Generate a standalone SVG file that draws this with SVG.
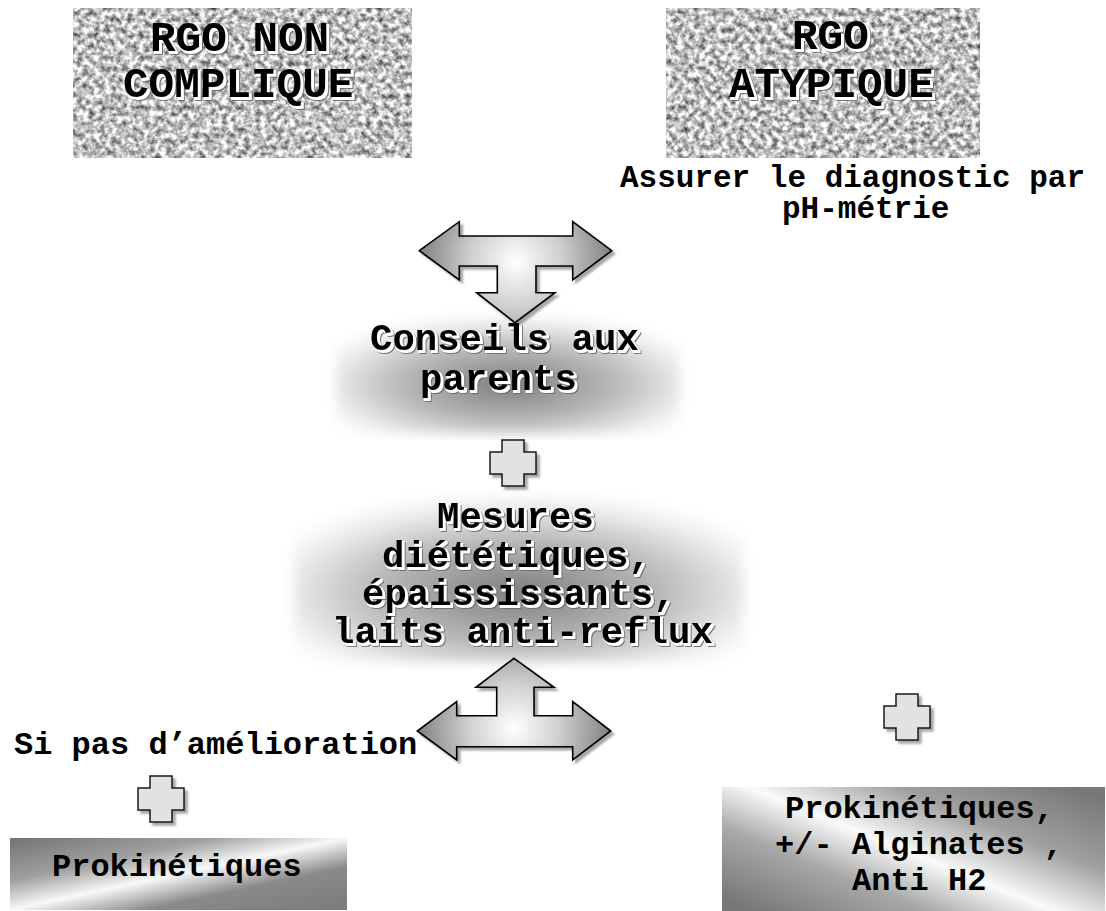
<svg xmlns="http://www.w3.org/2000/svg" xmlns:xlink="http://www.w3.org/1999/xlink" width="1106" height="911" viewBox="0 0 1106 911">
<style>
  text { font-family: "Liberation Mono", "Courier New", "DejaVu Sans Mono", monospace; font-weight: bold; fill: #000; }
  .t43 { font-size: 42.67px; }
  .t37 { font-size: 37.33px; }
  .t32 { font-size: 32px; }
  .t31 { font-size: 31px; }
  .arrow { stroke: #000; stroke-width: 1.6; stroke-linejoin: miter; }
  .cross { fill: #e2e2e2; stroke: #1a1a1a; stroke-width: 1.5; }
</style>
<defs>
  <filter id="granite" x="0" y="0" width="1" height="1" color-interpolation-filters="sRGB">
    <feTurbulence type="fractalNoise" baseFrequency="0.18" numOctaves="3" seed="7" result="n"/>
    <feColorMatrix in="n" type="matrix" values="1.3 0 0 0 0.1  1.3 0 0 0 0.1  1.3 0 0 0 0.1  0 0 0 0 1" result="g"/>
    <feComposite in="g" in2="SourceGraphic" operator="in"/>
  </filter>
  <filter id="emb" x="-5%" y="-20%" width="115%" height="160%" color-interpolation-filters="sRGB">
    <feMorphology in="SourceAlpha" operator="dilate" radius="0.8" result="d"/>
    <feOffset in="d" dx="3" dy="3" result="o2"/>
    <feFlood flood-color="#666" flood-opacity="0.85"/>
    <feComposite in2="o2" operator="in" result="g"/>
    <feOffset in="d" dx="1.5" dy="1.5" result="o1"/>
    <feFlood flood-color="#ffffff"/>
    <feComposite in2="o1" operator="in" result="w"/>
    <feMerge><feMergeNode in="g"/><feMergeNode in="w"/><feMergeNode in="SourceGraphic"/></feMerge>
  </filter>
  <filter id="shadow" x="-10%" y="-10%" width="130%" height="130%" color-interpolation-filters="sRGB">
    <feGaussianBlur in="SourceAlpha" stdDeviation="1.2"/>
    <feOffset dx="3" dy="3" result="b"/>
    <feFlood flood-color="#000" flood-opacity="0.35"/>
    <feComposite in2="b" operator="in" result="s"/>
    <feMerge><feMergeNode in="s"/><feMergeNode in="SourceGraphic"/></feMerge>
  </filter>
  <filter id="softedge" x="-5%" y="-5%" width="110%" height="110%">
    <feGaussianBlur stdDeviation="6"/>
  </filter>
  <radialGradient id="arrowTop" gradientUnits="userSpaceOnUse" cx="516" cy="262" r="100">
    <stop offset="0" stop-color="#ffffff"/>
    <stop offset="0.45" stop-color="#d0d0d0"/>
    <stop offset="1" stop-color="#7c7c7c"/>
  </radialGradient>
  <radialGradient id="arrowBot" gradientUnits="userSpaceOnUse" cx="514" cy="728" r="100">
    <stop offset="0" stop-color="#ffffff"/>
    <stop offset="0.45" stop-color="#d0d0d0"/>
    <stop offset="1" stop-color="#7c7c7c"/>
  </radialGradient>
  <radialGradient id="soft" cx="0.5" cy="0.58" r="0.62">
    <stop offset="0" stop-color="#7e7e7e"/>
    <stop offset="0.5" stop-color="#b8b8b8"/>
    <stop offset="0.85" stop-color="#efefef"/>
    <stop offset="1" stop-color="#ffffff"/>
  </radialGradient>
  <linearGradient id="gradBL" x1="0" y1="0" x2="1" y2="1">
    <stop offset="0" stop-color="#737373"/>
    <stop offset="0.3" stop-color="#a0a0a0"/>
    <stop offset="0.5" stop-color="#f8f8f8"/>
    <stop offset="0.7" stop-color="#8a8a8a"/>
    <stop offset="1" stop-color="#7a7a7a"/>
  </linearGradient>
  <linearGradient id="gradBR" x1="0" y1="0.9" x2="1" y2="0.1">
    <stop offset="0" stop-color="#777777"/>
    <stop offset="0.28" stop-color="#a8a8a8"/>
    <stop offset="0.48" stop-color="#fafafa"/>
    <stop offset="0.72" stop-color="#a0a0a0"/>
    <stop offset="1" stop-color="#777777"/>
  </linearGradient>
  <path id="crossShape" d="M11,0 H33 V12 H45 V34 H33 V46 H11 V34 H-1 V12 H11 Z"/>
</defs>

<rect x="0" y="0" width="1106" height="911" fill="#ffffff"/>

<g id="node-rgo-non-complique">
  <rect x="73" y="8" width="339" height="150" fill="#bbbbbb" filter="url(#granite)"/>
  <g filter="url(#emb)">
    <text class="t43" x="150" y="51">RGO NON</text>
    <text class="t43" x="123" y="97">COMPLIQUE</text>
  </g>
</g>

<g id="node-rgo-atypique">
  <rect x="666" y="8" width="314" height="150" fill="#bbbbbb" filter="url(#granite)"/>
  <g filter="url(#emb)">
    <text class="t43" x="792" y="49">RGO</text>
    <text class="t43" x="729" y="97">ATYPIQUE</text>
  </g>
</g>

<g id="node-assurer">
  <text class="t31" x="620" y="187">Assurer le diagnostic par</text>
  <text class="t31" x="782" y="218">pH-métrie</text>
</g>

<g id="node-conseils">
  <rect x="336" y="316" width="344" height="118" fill="url(#soft)" filter="url(#softedge)"/>
  <g filter="url(#emb)">
    <text class="t37" x="370" y="350">Conseils aux</text>
    <text class="t37" x="420" y="390">parents</text>
  </g>
</g>

<g id="node-mesures">
  <rect x="294" y="496" width="450" height="166" fill="url(#soft)" filter="url(#softedge)"/>
  <g filter="url(#emb)">
    <text class="t37" x="437" y="528">Mesures</text>
    <text class="t37" x="382" y="567">diététiques,</text>
    <text class="t37" x="362" y="605">épaississants,</text>
    <text class="t37" x="332" y="643">laits anti-reflux</text>
  </g>
</g>

<g id="node-si-pas">
  <text class="t32" x="14" y="754">Si pas d’amélioration</text>
</g>

<g id="node-prokinetiques">
  <rect x="10" y="838" width="337" height="72" fill="url(#gradBL)"/>
  <text class="t32" x="52" y="876">Prokinétiques</text>
</g>

<g id="node-prokinetiques-alginates">
  <rect x="722" y="787" width="383" height="124" fill="url(#gradBR)"/>
  <text class="t32" x="785" y="818">Prokinétiques,</text>
  <text class="t32" x="775" y="854">+/- Alginates ,</text>
  <text class="t32" x="852" y="890">Anti H2</text>
</g>

<g id="connectors">
  <path class="arrow" fill="url(#arrowTop)" filter="url(#shadow)" d="M419.3,250.7 L459.3,221.7 L459.3,236 L572.7,236 L572.7,221.7 L611.7,250.7 L572.7,280 L572.7,266 L536,266 L536,292.7 L555,292.7 L515,322.7 L476.7,292.7 L497.3,292.7 L497.3,266 L459.3,266 L459.3,280 Z"/>
  <path class="arrow" fill="url(#arrowBot)" filter="url(#shadow)" d="M514,658.3 L554,687.3 L534,687.3 L534,715.7 L572.7,715.7 L572.7,701.7 L610.7,731 L572.7,760 L572.7,746.7 L456.7,746.7 L456.7,760 L417.3,731 L456.7,701.7 L456.7,715.7 L496.7,715.7 L496.7,687.3 L476,687.3 Z"/>
  <use xlink:href="#crossShape" class="cross" filter="url(#shadow)" x="491" y="440"/>
  <use xlink:href="#crossShape" class="cross" filter="url(#shadow)" x="139" y="776"/>
  <use xlink:href="#crossShape" class="cross" filter="url(#shadow)" x="885" y="694"/>
</g>
</svg>
